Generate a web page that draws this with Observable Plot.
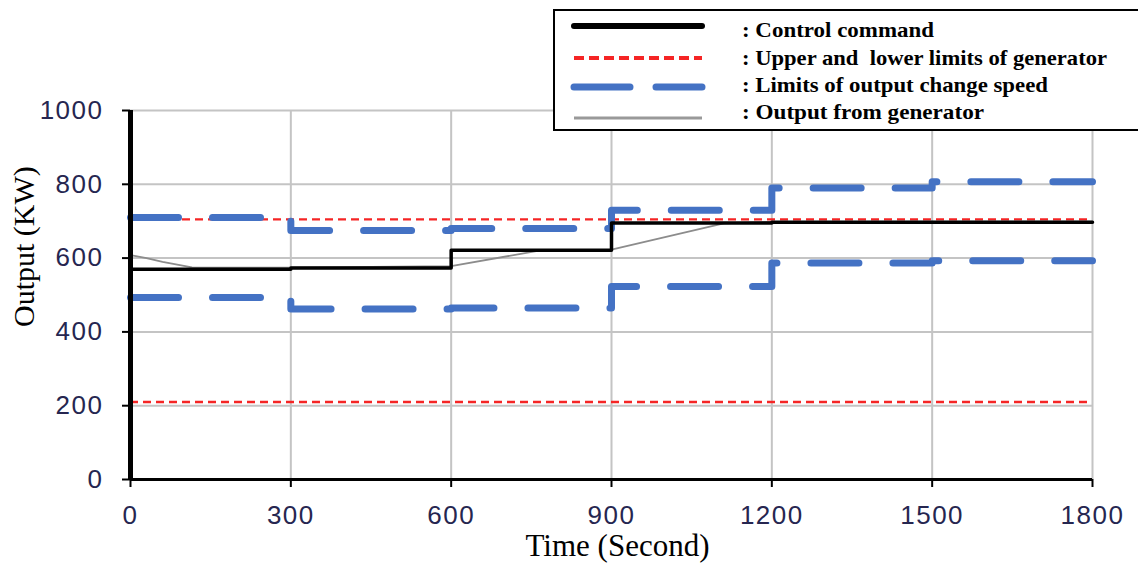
<!DOCTYPE html>
<html>
<head>
<meta charset="utf-8">
<script src="https://cdn.jsdelivr.net/npm/d3@7"></script>
<script src="https://cdn.jsdelivr.net/npm/@observablehq/plot@0.6"></script>
<style>
  html, body { margin: 0; padding: 0; background: #fff; overflow: hidden; }
  #wrap { position: relative; width: 1138px; height: 571px; overflow: hidden; }
  #legend { position: absolute; left: 553px; top: 9px; width: 600px; height: 118px;
            border: 2px solid #000; background: #fff; }
  #chart g[aria-label="x-axis tick label"] text,
  #chart g[aria-label="y-axis tick label"] text { letter-spacing: 1.5px; }
</style>
</head>
<body>
<div id="wrap">
  <div id="chart"></div>
  <div id="legend"></div>
</div>
<script>
// ---- data ----
const xTicks = [0, 300, 600, 900, 1200, 1500, 1800];
const yTicks = [0, 200, 400, 600, 800, 1000];

const speedTimes = [0, 300, 600, 900, 1200, 1500, 1800];
const upperSpeed = [710, 675, 680, 730, 790, 807, 807];
const lowerSpeed = [493, 462, 465, 523, 587, 593, 593];

const cmdTimes = [0, 300, 600, 900, 1200, 1800];
const command  = [570, 573, 621, 695, 697, 697];

const genLimits = [705, 210];

const outTimes = [0, 30, 60, 115, 300, 600, 767, 900, 1110, 1200, 1800];
const output   = [608, 600, 590, 575, 574, 578, 621, 623, 694, 698, 699];

const legendLabels = [
  ": Control command",
  ": Upper and  lower limits of generator",
  ": Limits of output change speed",
  ": Output from generator"
];
const legendTextWidths = [192, 365, 306, 242];

// ---- tables ----
const upperRows = speedTimes.map((t, i) => ({t, v: upperSpeed[i]}));
const lowerRows = speedTimes.map((t, i) => ({t, v: lowerSpeed[i]}));
const cmdRows = cmdTimes.map((t, i) => ({t, v: command[i]}));
const outRows = outTimes.map((t, i) => ({t, v: output[i]}));

const blue = "#4472C4";
const blueDash = {stroke: blue, strokeWidth: 7, strokeDasharray: "48,34", strokeLinecap: "round", curve: "step-after", x: "t", y: "v"};
const serif = "'Liberation Serif', 'Times New Roman', serif";

const chart = Plot.plot({
  width: 1138,
  height: 571,
  marginLeft: 130,
  marginRight: 46,
  marginTop: 110,
  marginBottom: 92,
  style: {background: "#fff", fontFamily: "'Liberation Sans', Arial, sans-serif", overflow: "visible"},
  x: {domain: [0, 1800]},
  y: {domain: [0, 1000]},
  marks: [
    Plot.gridX(xTicks, {stroke: "#c4c4c4", strokeOpacity: 1, strokeWidth: 2}),
    Plot.gridY(yTicks, {stroke: "#c4c4c4", strokeOpacity: 1, strokeWidth: 2}),
    Plot.ruleY(genLimits, {stroke: "#f52525", strokeWidth: 2.4, strokeDasharray: "8,5"}),
    Plot.line(upperRows, blueDash),
    Plot.line(lowerRows, blueDash),
    Plot.line(outRows, {x: "t", y: "v", stroke: "#8c8c8c", strokeWidth: 1.8}),
    Plot.line(cmdRows, {x: "t", y: "v", stroke: "#000", strokeWidth: 3.5, curve: "step-after"}),
    Plot.axisX({ticks: xTicks, tickSize: 8, tickPadding: 18, fontSize: 26, fill: "#262650", stroke: "#000", strokeWidth: 2, label: null, tickFormat: d => String(d)}),
    Plot.axisY({ticks: yTicks, tickSize: 8, tickPadding: 19, fontSize: 26, fill: "#262650", stroke: "#000", strokeWidth: 2, label: null, tickFormat: d => String(d)}),
    Plot.ruleY([0], {stroke: "#000", strokeWidth: 3}),
    Plot.ruleX([0], {stroke: "#000", strokeWidth: 5}),
    Plot.text(["Time (Second)"], {frameAnchor: "bottom", dy: 76, dx: 6, fontSize: 31, fill: "#000", fontFamily: serif}),
    Plot.text(["Output (KW)"], {frameAnchor: "left", dx: -106, dy: 32, rotate: -90, fontSize: 30, fill: "#000", fontFamily: serif})
  ]
});
document.getElementById("chart").appendChild(chart);

// ---- legend ----
const ns = "http://www.w3.org/2000/svg";
const lg = document.createElementNS(ns, "svg");
lg.setAttribute("width", 600);
lg.setAttribute("height", 118);
const lineY = [15, 47, 76, 107];
const textY = [19, 47, 74, 101];
const styles = [
  {stroke: "#000", "stroke-width": 6, "stroke-linecap": "round"},
  {stroke: "#f52525", "stroke-width": 4, "stroke-dasharray": "10,5"},
  {stroke: blue, "stroke-width": 7, "stroke-dasharray": "56,26", "stroke-linecap": "round"},
  {stroke: "#999", "stroke-width": 3}
];
legendLabels.forEach((lab, i) => {
  const ln = document.createElementNS(ns, "line");
  ln.setAttribute("x1", 19); ln.setAttribute("x2", 147);
  ln.setAttribute("y1", lineY[i]); ln.setAttribute("y2", lineY[i]);
  for (const k in styles[i]) ln.setAttribute(k, styles[i][k]);
  lg.appendChild(ln);
  const tx = document.createElementNS(ns, "text");
  tx.setAttribute("x", 187);
  tx.setAttribute("y", textY[i]);
  tx.setAttribute("dy", "0.35em");
  tx.setAttribute("font-family", serif);
  tx.setAttribute("font-weight", "bold");
  tx.setAttribute("font-size", 21);
  tx.setAttribute("textLength", legendTextWidths[i]);
  tx.setAttribute("lengthAdjust", "spacingAndGlyphs");
  tx.style.whiteSpace = "pre";
  tx.textContent = lab;
  lg.appendChild(tx);
});
document.getElementById("legend").appendChild(lg);
</script>
</body>
</html>
